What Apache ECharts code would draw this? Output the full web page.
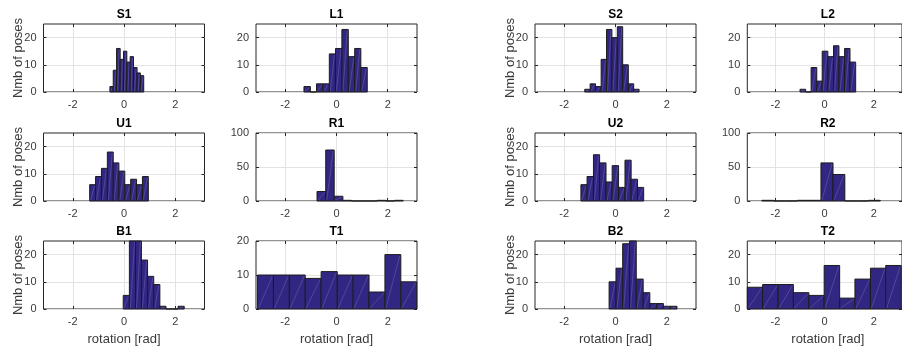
<!DOCTYPE html>
<html><head><meta charset="utf-8">
<script src="https://cdn.jsdelivr.net/npm/echarts@6/dist/echarts.min.js"></script>
<style>html,body{margin:0;padding:0;background:#fff}#c{width:902px;height:352px}</style>
</head><body><div id="c"></div>
<script>
// ---- data: bin edges (rad) and counts per histogram ----
const panelNames = ['S1','L1','S2','L2','U1','R1','U2','R2','B1','T1','B2','T2'];
const S1_edges = [-0.55,-0.42,-0.29,-0.15,-0.02,0.11,0.24,0.37,0.51,0.64,0.77];
const S1_counts = [2,8,16,12,15,11,13,9,7,6];
const L1_edges = [-1.27,-1.02,-0.78,-0.53,-0.28,-0.04,0.21,0.46,0.71,0.95,1.20];
const L1_counts = [2,0,3,3,14,16,23,13,16,9];
const S2_edges = [-1.20,-0.99,-0.78,-0.56,-0.35,-0.14,0.07,0.28,0.50,0.71,0.92];
const S2_counts = [1,3,2,12,23,20,24,10,3,1];
const L2_edges = [-1.00,-0.77,-0.55,-0.32,-0.10,0.13,0.36,0.58,0.81,1.03,1.26];
const L2_counts = [1,0,9,4,15,13,17,13,16,11];
const U1_edges = [-1.34,-1.11,-0.88,-0.65,-0.42,-0.20,0.03,0.26,0.49,0.72,0.95];
const U1_counts = [6,9,12,18,14,11,6,8,6,9];
const R1_edges = [-0.76,-0.42,-0.09,0.25,0.58,0.92,1.26,1.59,1.93,2.26,2.60];
const R1_counts = [14,75,7,1,0,0,0,1,0,1];
const U2_edges = [-1.35,-1.11,-0.86,-0.62,-0.37,-0.13,0.12,0.37,0.61,0.86,1.10];
const U2_counts = [6,9,17,14,7,13,5,15,8,5];
const R2_edges = [-2.55,-2.07,-1.59,-1.11,-0.63,-0.15,0.34,0.82,1.30,1.78,2.26];
const R2_counts = [1,0,0,1,1,56,39,0,0,1];
const B1_edges = [-0.03,0.21,0.45,0.68,0.92,1.16,1.40,1.64,1.87,2.11,2.35];
const B1_counts = [5,27,26,18,12,9,1,0,0,1];
const T1_edges = [-3.08,-2.46,-1.84,-1.22,-0.60,0.03,0.65,1.27,1.89,2.51,3.13];
const T1_counts = [10,10,10,9,11,10,10,5,16,8];
const B2_edges = [-0.25,0.02,0.28,0.55,0.81,1.08,1.34,1.61,1.87,2.14,2.40];
const B2_counts = [10,15,24,27,11,6,2,2,1,1];
const T2_edges = [-3.14,-2.52,-1.89,-1.27,-0.64,-0.02,0.61,1.23,1.86,2.48,3.11];
const T2_counts = [8,9,9,6,5,16,4,11,15,16];

const yMaxes = [25,25,25,25, 25,100,25,100, 25,20,25,25];
const yTicksSmall = [0,10,20];
const yTicksLarge = [0,50,100];
const yTickSets = [yTicksSmall,yTicksSmall,yTicksSmall,yTicksSmall, yTicksSmall,yTicksLarge,yTicksSmall,yTicksLarge, yTicksSmall,yTicksSmall,yTicksSmall,yTicksSmall];
const xTickValues = [-2,0,2];
const yLabelText = 'Nmb of poses';
const xLabelText = 'rotation [rad]';

const panels = [
  [S1_edges,S1_counts],[L1_edges,L1_counts],[S2_edges,S2_counts],[L2_edges,L2_counts],
  [U1_edges,U1_counts],[R1_edges,R1_counts],[U2_edges,U2_counts],[R2_edges,R2_counts],
  [B1_edges,B1_counts],[T1_edges,T1_counts],[B2_edges,B2_counts],[T2_edges,T2_counts]
];

// ---- layout ----
const colLeft = [43.5, 256, 535, 747.3];
const rowTop = [24, 133, 241];
const W = 161, H = 68;
const FONT = '"Liberation Sans", Arial, Helvetica, sans-serif';
const AX = '#262626';
const LBL = '#3a3a3a';
const GRIDC = '#e3e3e3';
const BAR = '#312783';

const grids = [], xAxes = [], yAxes = [], series = [], graphics = [];
panels.forEach((p, i) => {
  const r = Math.floor(i / 4), c = i % 4;
  grids.push({left: colLeft[c], top: rowTop[r], width: W, height: H,
    show: true, borderColor: AX, borderWidth: 1, backgroundColor: 'transparent'});
  const xTick = {show: true, inside: true, length: 3, lineStyle: {color: AX, width: 1}, customValues: xTickValues};
  xAxes.push({type: 'value', gridIndex: i, min: -Math.PI, max: Math.PI, position: 'bottom',
    axisLine: {show: false, onZero: false}, axisTick: xTick,
    axisLabel: {customValues: xTickValues, fontSize: 11, color: LBL, fontFamily: FONT, margin: 7},
    splitLine: {show: true, lineStyle: {color: GRIDC, width: 1}}});
  xAxes.push({type: 'value', gridIndex: i, min: -Math.PI, max: Math.PI, position: 'top',
    axisLine: {show: false, onZero: false}, axisTick: xTick, axisLabel: {show: false}, splitLine: {show: false}});
  const yv = yTickSets[i];
  const yTick = {show: true, inside: true, length: 3, lineStyle: {color: AX, width: 1}, customValues: yv};
  yAxes.push({type: 'value', gridIndex: i, min: 0, max: yMaxes[i], position: 'left',
    axisLine: {show: false, onZero: false}, axisTick: yTick,
    axisLabel: {customValues: yv, fontSize: 11, color: LBL, fontFamily: FONT, margin: 7},
    splitLine: {show: true, lineStyle: {color: GRIDC, width: 1}}});
  yAxes.push({type: 'value', gridIndex: i, min: 0, max: yMaxes[i], position: 'right',
    axisLine: {show: false, onZero: false}, axisTick: yTick, axisLabel: {show: false}, splitLine: {show: false}});

  const [edges, counts] = p;
  const data = counts.map((n, k) => [edges[k], edges[k + 1], n]);
  series.push({
    type: 'custom', xAxisIndex: 2 * i, yAxisIndex: 2 * i, data: data,
    encode: {x: [0, 1], y: 2},
    renderItem: function (params, api) {
      const p0 = api.coord([api.value(0), 0]);
      const p1 = api.coord([api.value(1), api.value(2)]);
      const cs = params.coordSys;
      const top = Math.max(p1[1], cs.y);
      const h = p0[1] - top;
      const children = [{type: 'rect', shape: {x: p0[0], y: top, width: p1[0] - p0[0], height: h},
        style: {fill: BAR, stroke: '#1c1c1c', lineWidth: 1}}];
      if (h > 1) {
        children.push({type: 'line', shape: {x1: p0[0] + 1, y1: p0[1] - 1, x2: p1[0] - 1, y2: top + 1},
          style: {stroke: 'rgba(255,255,255,0.25)', lineWidth: 0.6}});
      }
      return {type: 'group', children: children};
    }
  });

  graphics.push({type: 'text', x: colLeft[c] + W / 2, y: rowTop[r] - 9,
    style: {text: panelNames[i], align: 'center', verticalAlign: 'middle',
      font: 'bold 12px ' + FONT, fill: '#000'}});
  if (c === 0 || c === 2) {
    graphics.push({type: 'text', x: colLeft[c] - 25, y: rowTop[r] + H / 2, rotation: Math.PI / 2,
      style: {text: yLabelText, align: 'center', verticalAlign: 'middle', font: '13px ' + FONT, fill: LBL}});
  }
  if (r === 2) {
    graphics.push({type: 'text', x: colLeft[c] + W / 2, y: rowTop[r] + H + 30,
      style: {text: xLabelText, align: 'center', verticalAlign: 'middle', font: '13px ' + FONT, fill: LBL}});
  }
});

const chart = echarts.init(document.getElementById('c'), null, {renderer: 'canvas'});
chart.setOption({
  animation: false,
  backgroundColor: '#fff',
  grid: grids, xAxis: xAxes, yAxis: yAxes, series: series,
  graphic: graphics
});
</script></body></html>
